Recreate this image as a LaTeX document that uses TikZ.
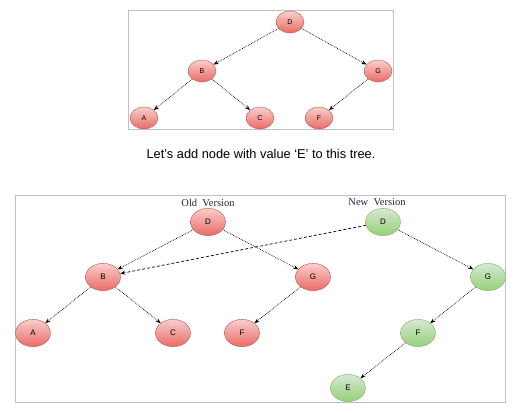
\documentclass[tikz,border=0pt]{standalone}
\usepackage{fontspec}
\setmainfont{Liberation Sans}
\newfontfamily\labelfont{Liberation Serif}
\usetikzlibrary{arrows.meta,shapes.geometric}
\definecolor{redtop}{HTML}{F8CECC}
\definecolor{redbot}{HTML}{EA6B66}
\definecolor{redline}{HTML}{B85450}
\definecolor{greentop}{HTML}{D5E8D4}
\definecolor{greenbot}{HTML}{97D077}
\definecolor{greenline}{HTML}{82B366}
\definecolor{framegray}{HTML}{C0C0C0}
\definecolor{versionink}{HTML}{1C2540}

\tikzset{
  oldkey/.style 2 args={ellipse, draw=redline, top color=redtop, bottom color=redbot,
    minimum width=#1pt, minimum height=0.78*#1pt, inner sep=0pt, font=\fontsize{#2}{#2}\selectfont},
  newkey/.style 2 args={oldkey={#1}{#2}, draw=greenline, top color=greentop, bottom color=greenbot},
  link/.style={-{Stealth[length=5pt,width=4pt]}, densely dotted, line width=0.7pt},
  frame/.style={draw=framegray, line width=0.8pt},
  version/.style={text=versionink, font=\labelfont\fontsize{10.5}{11}\selectfont}
}

\begin{document}
\begin{tikzpicture}[x=1pt,y=-1pt]
\useasboundingbox (0,0) rectangle (519,412);

% top tree
\draw[frame] (128,10) rectangle (393,129);
\node[oldkey={28}{7}] (tD) at (290,22) {D};
\node[oldkey={28}{7}] (tB) at (202,71) {B};
\node[oldkey={28}{7}] (tG) at (378,71) {G};
\node[oldkey={28}{7}] (tA) at (144,118) {A};
\node[oldkey={28}{7}] (tC) at (260,118) {C};
\node[oldkey={28}{7}] (tF) at (319,118) {F};
\foreach \a/\b in {tD/tB,tD/tG,tB/tA,tB/tC,tG/tF}
  \draw[link] (\a) -- (\b);

\node[font=\fontsize{12.8}{13}\selectfont] (caption) at (261,154) {Let’s add node with value ‘E’ to this tree.};

% old and new versions
\draw[frame] (15,195) rectangle (505,402);
\node[version] (oldlabel) at (208,203) {Old\ \ Version};
\node[version] (newlabel) at (377,202) {New\ \ Version};

\node[oldkey={35}{8}] (oD) at (208,222) {D};
\node[oldkey={35}{8}] (oB) at (103,277) {B};
\node[oldkey={35}{8}] (oG) at (313,277) {G};
\node[oldkey={35}{8}] (oA) at (33,333) {A};
\node[oldkey={35}{8}] (oC) at (173,333) {C};
\node[oldkey={35}{8}] (oF) at (242,333) {F};

\node[newkey={35}{8}] (nD) at (383,222) {D};
\node[newkey={35}{8}] (nG) at (488,277) {G};
\node[newkey={35}{8}] (nF) at (418,333) {F};
\node[newkey={35}{8}] (nE) at (348,388) {E};

\foreach \a/\b in {oD/oB,oD/oG,oB/oA,oB/oC,oG/oF,nD/nG,nG/nF,nF/nE}
  \draw[link] (\a) -- (\b);
\draw[link, densely dashed] (nD) -- (oB);
\end{tikzpicture}
\end{document}
